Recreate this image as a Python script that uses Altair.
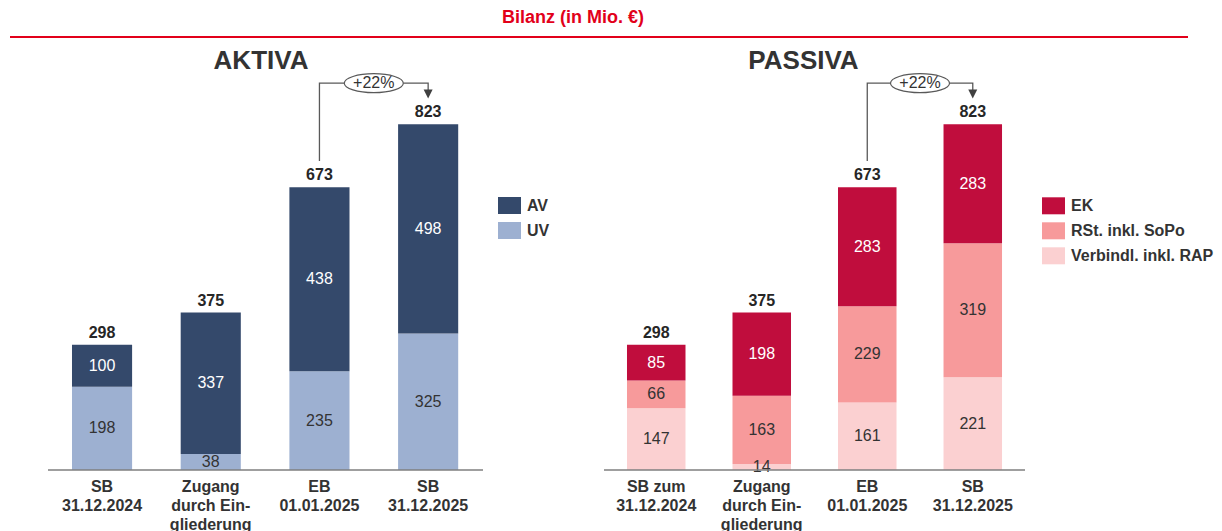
import altair as alt
import pandas as pd

# ---------------- data ----------------
cats_aktiva = ["SB|31.12.2024", "Zugang|durch Ein-|gliederung", "EB|01.01.2025", "SB|31.12.2025"]
cats_passiva = ["SB zum|31.12.2024", "Zugang|durch Ein-|gliederung", "EB|01.01.2025", "SB|31.12.2025"]

av = [100, 337, 438, 498]
uv = [198, 38, 235, 325]

ek = [85, 198, 283, 283]
rst = [66, 163, 229, 319]
verb = [147, 14, 161, 221]

growth_label = "+22%"

FONT = "Liberation Sans"
DARK = "#333333"
LINE = "#595959"

Y_MAX = 1000
BRACKET_Y = 921
BRACKET_LOW_GAP = 63
ARROW_GAP = 72


def stack_table(cats, series):
    rows = []
    for i, c in enumerate(cats):
        base = 0
        for k, (name, vals) in enumerate(series):
            v = vals[i]
            rows.append(dict(cat=c, series=name, value=v, order=k, mid=base + v / 2))
            base += v
    return pd.DataFrame(rows)


def total_table(cats, series):
    return pd.DataFrame({"cat": cats,
                         "total": [sum(vals[i] for _, vals in series) for i in range(len(cats))]})


def panel(cats, series, domain, colors, white_series, title, title_x,
          width, pi, po, align, base_x0, base_x1, legend_x, legend_y, step):
    df = stack_table(cats, series)
    tot = total_table(cats, series)
    t_from = tot["total"].iloc[2]
    t_to = tot["total"].iloc[3]

    xenc = alt.X("cat:N", sort=cats,
                 scale=alt.Scale(paddingInner=pi, paddingOuter=po, align=align),
                 axis=alt.Axis(title=None, labelExpr="split(datum.label, '|')", labelAngle=0,
                               labelFontSize=16, labelFontWeight="bold", labelColor=DARK,
                               labelFont=FONT, labelLineHeight=19, labelPadding=8,
                               domain=False, ticks=False, grid=False, labelLimit=0))
    yscale = alt.Scale(domain=[0, Y_MAX], nice=False)

    bars = alt.Chart(df).mark_bar().encode(
        x=xenc,
        y=alt.Y("value:Q", stack="zero", scale=yscale, axis=None),
        color=alt.Color("series:N",
                        scale=alt.Scale(domain=domain, range=colors),
                        legend=alt.Legend(title=None, orient="none", legendX=legend_x, legendY=legend_y,
                                          symbolType="M-1.35,-1H1.35V1H-1.35Z", symbolSize=289,
                                          symbolStrokeWidth=0, symbolOpacity=1,
                                          labelFontSize=16, labelFontWeight="bold", labelColor=DARK,
                                          labelFont=FONT, labelOffset=9, rowPadding=8, padding=0)),
        order=alt.Order("order:Q"),
    )

    inner = alt.Chart(df).mark_text(fontSize=16, font=FONT, baseline="middle").encode(
        x=alt.X("cat:N", sort=cats),
        y=alt.Y("mid:Q", scale=yscale),
        text=alt.Text("value:Q"),
        color=alt.condition(f"datum.series == '{white_series}'", alt.value("white"), alt.value(DARK)),
    )

    totals = alt.Chart(tot).mark_text(fontSize=16, font=FONT, fontWeight="bold",
                                      baseline="bottom", dy=-4, color="#262626").encode(
        x=alt.X("cat:N", sort=cats),
        y=alt.Y("total:Q", scale=yscale),
        text=alt.Text("total:Q"),
    )

    base = alt.Chart(pd.DataFrame({"v": [0]})).mark_rule(color="#7f7f7f", strokeWidth=1.5).encode(
        x=alt.value(base_x0), x2=alt.value(base_x1), y=alt.datum(0)
    )

    bracket = pd.DataFrame({
        "cat": [cats[2], cats[2], cats[3], cats[3]],
        "y": [t_from + BRACKET_LOW_GAP, BRACKET_Y, BRACKET_Y, t_to + ARROW_GAP],
        "ord": [0, 1, 2, 3],
    })
    line = alt.Chart(bracket).mark_line(color=LINE, strokeWidth=1.3).encode(
        x=alt.X("cat:N", sort=cats), y=alt.Y("y:Q", scale=yscale), order="ord:Q"
    )

    arrow = alt.Chart(pd.DataFrame({"cat": [cats[3]], "y": [t_to + ARROW_GAP]})).mark_point(
        shape="M-1,-1L1,-1L0,1Z", size=81, filled=True, color="#404040", opacity=1
    ).encode(x=alt.X("cat:N", sort=cats), y=alt.Y("y:Q", scale=yscale))

    lab = pd.DataFrame({"cat": [cats[2]], "y": [BRACKET_Y], "t": [growth_label]})
    ellipse = alt.Chart(lab).mark_point(
        shape="M-1,0A1,0.322 0 1,0 1,0A1,0.322 0 1,0 -1,0Z", size=3481,
        filled=True, fill="white", stroke=LINE, strokeWidth=1.2, opacity=1, xOffset=step / 2
    ).encode(x=alt.X("cat:N", sort=cats), y=alt.Y("y:Q", scale=yscale))
    etext = alt.Chart(lab).mark_text(fontSize=16, font=FONT, color=DARK, dx=step / 2,
                                     baseline="middle").encode(
        x=alt.X("cat:N", sort=cats), y=alt.Y("y:Q", scale=yscale), text="t:N"
    )

    ttl = alt.Chart(pd.DataFrame({"t": [title]})).mark_text(
        fontSize=26, fontWeight="bold", font=FONT, color=DARK, baseline="middle"
    ).encode(text="t:N", x=alt.value(title_x), y=alt.value(11))

    return alt.layer(bars, inner, totals, base, line, ellipse, etext, arrow, ttl).properties(
        width=width, height=420
    )


left = panel(cats_aktiva, [("UV", uv), ("AV", av)], ["AV", "UV"], ["#34496B", "#9DB0D1"], "AV",
             "AKTIVA", 253, 595, 0.447, 0.9604, 0.3065, 40, 475, 493, 147, 108.7)

right = panel(cats_passiva, [("Verbindl. inkl. RAP", verb), ("RSt. inkl. SoPo", rst), ("EK", ek)],
              ["EK", "RSt. inkl. SoPo", "Verbindl. inkl. RAP"], ["#C00D3D", "#F79A9B", "#FBD0D1"], "EK",
              "PASSIVA", 199.5, 585, 0.4455, 0.995, 0.1095, 0, 421, 441, 147.3, 105.5)

header_df = pd.DataFrame({"t": ["Bilanz (in Mio. €)"]})
header = alt.layer(
    alt.Chart(header_df).mark_text(fontSize=18, fontWeight="bold", font=FONT, color="#E2001A",
                                   baseline="middle").encode(
        text="t:N", x=alt.value(565), y=alt.value(10)),
    alt.Chart(header_df).mark_rule(color="#E2001A", strokeWidth=2).encode(
        x=alt.value(2), x2=alt.value(1180), y=alt.value(29)),
).properties(width=1180, height=30)

panels = alt.hconcat(left, right, spacing=0).resolve_scale(
    color="independent", x="independent", y="independent"
).resolve_legend(color="independent")

chart = alt.vconcat(header, panels, spacing=10).properties(
    padding=0, background="white"
).configure_view(stroke=None)

chart.save("out.html", embed_options={"renderer": "svg", "actions": False})
